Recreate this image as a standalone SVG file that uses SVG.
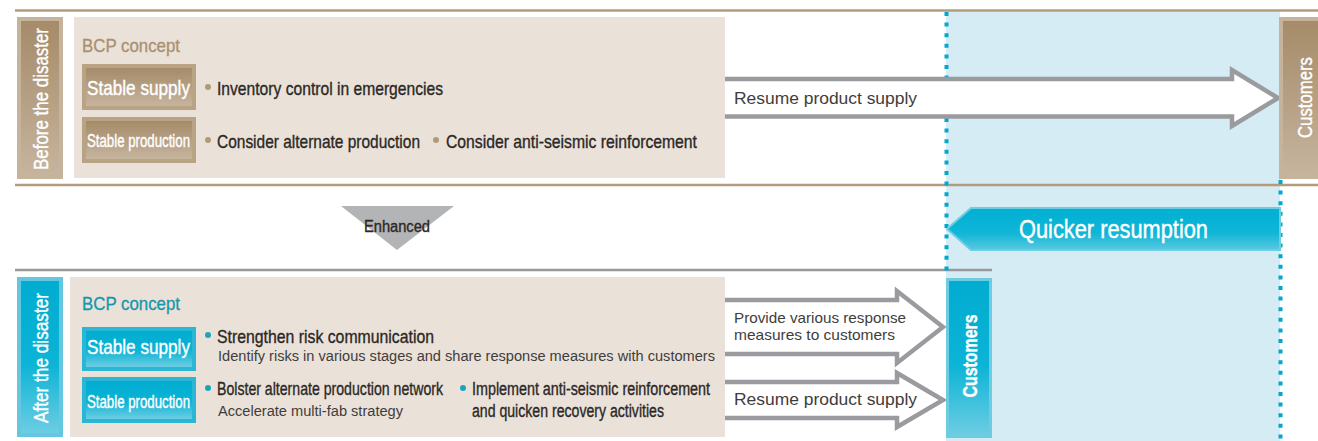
<svg xmlns="http://www.w3.org/2000/svg" width="1318" height="441" viewBox="0 0 1318 441">
<defs>
<linearGradient id="gBrown" x1="0" y1="0" x2="0" y2="1"><stop offset="0" stop-color="#a58b69"/><stop offset="1" stop-color="#c6b49e"/></linearGradient>
<linearGradient id="gBlue" x1="0" y1="0" x2="0" y2="1"><stop offset="0" stop-color="#00acd0"/><stop offset="0.55" stop-color="#0cb4d6"/><stop offset="1" stop-color="#6ccde3"/></linearGradient>
<linearGradient id="gArrow" x1="0" y1="0" x2="0" y2="1"><stop offset="0" stop-color="#00b0d2"/><stop offset="0.6" stop-color="#10b6d8"/><stop offset="1" stop-color="#5ac8e0"/></linearGradient>
<style>
.t{font-family:"Liberation Sans Narrow","Liberation Sans",Arial,sans-serif}
.r{font-family:"Liberation Sans",Arial,sans-serif}
.w{fill:#ffffff;stroke:#ffffff;stroke-width:0.4}
.dk{fill:#2b2826;stroke:#2b2826;stroke-width:0.35}
.sub{fill:#3f3d3c}
.bcpB{fill:#a89070;stroke:#a89070;stroke-width:0.3}
.bcpC{fill:#1597ad;stroke:#1597ad;stroke-width:0.3}
.arr{fill:#ffffff;stroke:none}
.arrS{fill:none;stroke:#9a9b9e;stroke-width:4.5;stroke-linejoin:miter}
.dot{fill:none;stroke:#00a8cf;stroke-width:4;stroke-dasharray:4 6.6}
</style>
</defs>
<rect x="946" y="10" width="334" height="431" fill="#d5ecf5"/>
<g id="lines">
<line x1="15" y1="10.5" x2="1318" y2="10.5" stroke="#b39c7c" stroke-width="2.5"/>
<line x1="15" y1="185" x2="1318" y2="185" stroke="#b39c7c" stroke-width="2.5"/>
<line x1="15" y1="270" x2="992" y2="270" stroke="#98999b" stroke-width="2.5"/>
</g>
<g id="dotted">
<line class="dot" x1="946.5" y1="12" x2="946.5" y2="276"/>
<line class="dot" x1="1280.5" y1="180" x2="1280.5" y2="441"/>
</g>
<g id="before-tag">
<rect x="17" y="17" width="46" height="162" fill="#c6b39b"/>
<rect x="21" y="21" width="38" height="154" fill="url(#gBrown)"/>
<text class="t w" transform="translate(48,99) rotate(-90)" text-anchor="middle" font-size="20" textLength="142" lengthAdjust="spacingAndGlyphs">Before the disaster</text>
</g>
<g id="before-panel">
<rect x="74" y="17" width="651" height="161" fill="#eae1d8"/>
<text class="t bcpB" x="82" y="52" font-size="19" textLength="98" lengthAdjust="spacingAndGlyphs">BCP concept</text>
</g>
<g id="before-supply">
<rect x="82" y="64" width="114" height="46" fill="#b9a385"/>
<rect x="86" y="68" width="106" height="38" fill="url(#gBrown)"/>
<text class="t w" x="87" y="95" font-size="21" textLength="103" lengthAdjust="spacingAndGlyphs">Stable supply</text>
<circle cx="208" cy="87" r="3" fill="#b09a78"/>
<text class="t dk" x="217" y="95" font-size="19" textLength="226" lengthAdjust="spacingAndGlyphs">Inventory control in emergencies</text>
</g>
<g id="before-production">
<rect x="82" y="117" width="114" height="46" fill="#b9a385"/>
<rect x="86" y="121" width="106" height="38" fill="url(#gBrown)"/>
<text class="t w" x="87" y="147" font-size="18" textLength="103" lengthAdjust="spacingAndGlyphs">Stable production</text>
<circle cx="208" cy="140" r="3" fill="#b09a78"/>
<text class="t dk" x="217" y="148" font-size="19" textLength="203" lengthAdjust="spacingAndGlyphs">Consider alternate production</text>
<circle cx="436" cy="140" r="3" fill="#b09a78"/>
<text class="t dk" x="446" y="148" font-size="19" textLength="251" lengthAdjust="spacingAndGlyphs">Consider anti-seismic reinforcement</text>
</g>
<g id="connectors">
<path class="arr" d="M725,79 L1232,79 L1232,70 L1278,98 L1232,126 L1232,116.5 L725,116.5 Z"/>
<path class="arrS" d="M725,79 L1232,79 L1232,70 L1278,98 L1232,126 L1232,116.5 L725,116.5"/>
<path class="arr" d="M725,300 L897,300 L897,291 L943,327 L897,363 L897,354 L725,354 Z"/>
<path class="arrS" d="M725,300 L897,300 L897,291 L943,327 L897,363 L897,354 L725,354"/>
<path class="arr" d="M725,382 L897,382 L897,373 L943,400 L897,427 L897,418 L725,418 Z"/>
<path class="arrS" d="M725,382 L897,382 L897,373 L943,400 L897,427 L897,418 L725,418"/>
<text class="r sub" x="734" y="104" font-size="16" textLength="183" lengthAdjust="spacingAndGlyphs">Resume product supply</text>
<text class="r sub" x="734" y="323" font-size="15" textLength="172" lengthAdjust="spacingAndGlyphs">Provide various response</text>
<text class="r sub" x="734" y="340" font-size="15" textLength="161" lengthAdjust="spacingAndGlyphs">measures to customers</text>
<text class="r sub" x="734" y="405" font-size="16" textLength="183" lengthAdjust="spacingAndGlyphs">Resume product supply</text>
</g>
<g id="customers-top">
<rect x="1279" y="17" width="39" height="162" fill="#c6b39b"/>
<rect x="1283" y="21" width="35" height="154" fill="url(#gBrown)"/>
<text class="t w" transform="translate(1312,97.5) rotate(-90)" text-anchor="middle" font-size="20" textLength="81" lengthAdjust="spacingAndGlyphs">Customers</text>
</g>
<g id="enhanced">
<polygon points="341,206 454,206 397,250" fill="#b3b4b6"/>
<text class="t dk" x="397" y="232" text-anchor="middle" font-size="16" textLength="66" lengthAdjust="spacingAndGlyphs">Enhanced</text>
</g>
<g id="quicker">
<polygon points="947,229 971,208 1280,208 1280,250 971,250" fill="url(#gArrow)" stroke="#6dcde3" stroke-width="2"/>
<text class="t w" x="1019" y="238" font-size="25" textLength="189" lengthAdjust="spacingAndGlyphs">Quicker resumption</text>
</g>
<g id="after-tag">
<rect x="17" y="277" width="46" height="160" fill="#64c7df"/>
<rect x="21" y="281" width="38" height="152" fill="url(#gBlue)"/>
<text class="t w" transform="translate(48,358) rotate(-90)" text-anchor="middle" font-size="20" textLength="130" lengthAdjust="spacingAndGlyphs">After the disaster</text>
</g>
<g id="after-panel">
<rect x="70" y="277" width="655" height="160" fill="#eae1d8"/>
<text class="t bcpC" x="82" y="310" font-size="19" textLength="98" lengthAdjust="spacingAndGlyphs">BCP concept</text>
</g>
<g id="after-supply">
<rect x="82" y="327" width="114" height="44" fill="#2cb6d6"/>
<rect x="86" y="331" width="106" height="36" fill="url(#gBlue)"/>
<text class="t w" x="87" y="354" font-size="21" textLength="103" lengthAdjust="spacingAndGlyphs">Stable supply</text>
<circle cx="208" cy="335" r="3" fill="#1aa3bd"/>
<text class="t dk" x="217" y="343" font-size="19" textLength="217" lengthAdjust="spacingAndGlyphs">Strengthen risk communication</text>
<text class="r sub" x="218" y="361" font-size="14" textLength="497" lengthAdjust="spacingAndGlyphs">Identify risks in various stages and share response measures with customers</text>
</g>
<g id="after-production">
<rect x="82" y="377" width="114" height="46" fill="#2cb6d6"/>
<rect x="86" y="381" width="106" height="38" fill="url(#gBlue)"/>
<text class="t w" x="87" y="408" font-size="18" textLength="103" lengthAdjust="spacingAndGlyphs">Stable production</text>
<circle cx="208" cy="388" r="3" fill="#1aa3bd"/>
<text class="t dk" x="217" y="395" font-size="19" textLength="226" lengthAdjust="spacingAndGlyphs">Bolster alternate production network</text>
<text class="r sub" x="218" y="416" font-size="14" textLength="185" lengthAdjust="spacingAndGlyphs">Accelerate multi-fab strategy</text>
<circle cx="463" cy="388" r="3" fill="#1aa3bd"/>
<text class="t dk" x="472" y="395" font-size="18" textLength="238" lengthAdjust="spacingAndGlyphs">Implement anti-seismic reinforcement</text>
<text class="t dk" x="472" y="417" font-size="18" textLength="192" lengthAdjust="spacingAndGlyphs">and quicken recovery activities</text>
</g>
<g id="customers-bottom">
<rect x="946" y="278" width="46" height="160" fill="#6dcbe2"/>
<rect x="949" y="281" width="40" height="154" fill="url(#gBlue)"/>
<text class="t w" transform="translate(977,356) rotate(-90)" text-anchor="middle" font-size="20" font-weight="bold" textLength="83" lengthAdjust="spacingAndGlyphs">Customers</text>
</g>
</svg>
